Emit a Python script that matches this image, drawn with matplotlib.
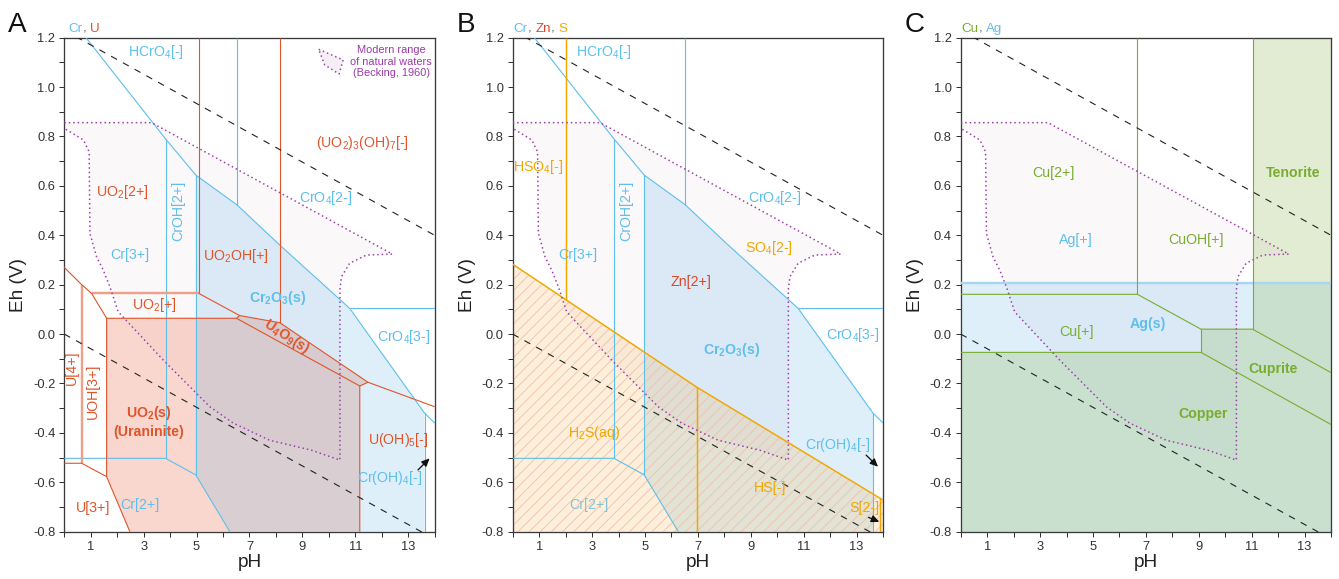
import numpy as np
import matplotlib
matplotlib.use('Agg')
import matplotlib.pyplot as plt
from matplotlib.patches import Polygon
from matplotlib.offsetbox import TextArea, HPacker, AnchoredOffsetbox
from matplotlib.ticker import MultipleLocator, FixedLocator, FuncFormatter

plt.rcParams['font.family'] = ['Liberation Sans', 'DejaVu Sans']
plt.rcParams['mathtext.fontset'] = 'custom'
plt.rcParams['mathtext.rm'] = 'Liberation Sans'
plt.rcParams['mathtext.it'] = 'Liberation Sans:italic'
plt.rcParams['mathtext.bf'] = 'Liberation Sans:bold'
plt.rcParams['hatch.linewidth'] = 0.45
plt.rcParams['axes.unicode_minus'] = False

DPI = 134

# ---- data (pH, Eh in V) ----
ph_lim = [0, 14]
eh_lim = [-0.8, 1.2]
ph_ticks = [1, 3, 5, 7, 9, 11, 13]
eh_ticks = [-0.8, -0.6, -0.4, -0.2, 0.0, 0.2, 0.4, 0.6, 0.8, 1.0, 1.2]

# water stability limits
water_up_ph = [0, 14]
water_up_eh = [1.23, 0.40]
water_lo_ph = [0, 14]
water_lo_eh = [0.0, -0.83]

# Becking (1960) range of natural waters
nat_ph = [0, 3.3, 12.4, 11.42, 10.79, 10.48, 10.42, 10.42, 9.34, 7.77, 6.38, 5.5,
          3.74, 2.04, 1.73, 1.47, 1.22, 0.97, 0.94, 0.72, 0]
nat_eh = [0.856, 0.856, 0.324, 0.32, 0.287, 0.232, 0.18, -0.51, -0.47, -0.43, -0.36, -0.294,
          -0.105, 0.09, 0.19, 0.26, 0.313, 0.408, 0.738, 0.786, 0.833]

# chromium boundaries
cr_lines = [
    ([0.82, 3.83, 4.97, 6.53, 8.15, 10.79, 13.62, 14], [1.2, 0.79, 0.644, 0.523, 0.36, 0.104, -0.32, -0.36]),
    ([3.83, 3.83], [0.79, -0.503]),
    ([4.97, 4.97], [0.644, -0.57]),
    ([6.53, 6.53], [1.2, 0.523]),
    ([10.79, 14], [0.104, 0.104]),
    ([13.62, 13.62], [-0.32, -0.8]),
    ([0, 3.83, 4.97, 6.26], [-0.503, -0.503, -0.57, -0.8]),
]
cr2o3_ph = [4.97, 6.53, 8.15, 10.79, 13.62, 13.62, 6.26, 4.97]
cr2o3_eh = [0.644, 0.523, 0.36, 0.104, -0.32, -0.8, -0.8, -0.57]

# uranium boundaries
u_lines = [
    ([5.08, 5.08], [1.2, 0.165]),
    ([8.15, 8.15], [1.2, 0.046]),
    ([0, 0.66, 1.03, 1.6, 1.6, 2.48], [0.27, 0.2, 0.165, 0.064, -0.577, -0.8]),
    ([5.08, 6.63, 8.15, 11.48, 14], [0.165, 0.075, 0.046, -0.195, -0.294]),
    ([1.6, 6.51, 11.17, 11.17], [0.064, 0.064, -0.21, -0.8]),
    ([6.51, 6.63], [0.064, 0.075]),
    ([11.17, 11.48], [-0.21, -0.195]),
    ([0, 0.66, 1.6], [-0.523, -0.523, -0.577]),
]
u_soft_lines = [
    ([0.66, 0.66], [0.2, -0.523]),
    ([1.03, 5.08], [0.165, 0.165]),
]
uo2_ph = [1.6, 6.51, 11.17, 11.17, 2.48, 1.6]
uo2_eh = [0.064, 0.064, -0.21, -0.8, -0.8, -0.577]
u4o9_ph = [6.51, 6.63, 8.15, 11.48, 11.17]
u4o9_eh = [0.064, 0.075, 0.046, -0.195, -0.21]

# sulfur boundaries
s_lines = [
    ([2.0, 2.0], [1.2, 0.14]),
    ([0, 2.0, 6.96, 14], [0.283, 0.14, -0.215, -0.672]),
    ([6.96, 6.96], [-0.215, -0.8]),
    ([13.9, 13.9], [-0.665, -0.8]),
]
s_red_ph = [0, 2.0, 6.96, 14, 14, 0]
s_red_eh = [0.283, 0.14, -0.215, -0.672, -0.8, -0.8]

# copper / silver boundaries
cu_lines = [
    ([6.68, 6.68], [1.2, 0.161]),
    ([11.03, 11.03], [1.2, 0.02]),
    ([0, 6.68, 9.08, 11.03, 14], [0.161, 0.161, 0.02, 0.02, -0.156]),
    ([9.08, 9.08], [0.02, -0.074]),
    ([0, 9.08, 14], [-0.074, -0.074, -0.366]),
]
cu_solid_ph = [0, 9.08, 9.08, 11.03, 11.03, 14, 14, 0]
cu_solid_eh = [-0.074, -0.074, 0.02, 0.02, 1.2, 1.2, -0.8, -0.8]
ag_eh = 0.206
ag_solid_ph = [0, 14, 14, 0]
ag_solid_eh = [0.206, 0.206, -0.8, -0.8]

CR = '#5dbfec'
U = '#e0552a'
U_SOFT = '#eda08a'
ZN = '#d8482a'
S = '#f0a800'
CU = '#78ad2f'
AG = '#5dbfec'
PURPLE = '#9b3aa8'
GRAY = '#555555'

labels_a = [
    ('HCrO$_4$[-]', 3.45, 1.143, CR, {}),
    ('(UO$_2$)$_3$(OH)$_7$[-]', 11.28, 0.774, U, {}),
    ('UO$_2$[2+]', 2.17, 0.576, U, {}),
    ('CrOH[2+]', 4.3, 0.50, CR, {'rotation': 90}),
    ('CrO$_4$[2-]', 9.88, 0.55, CR, {}),
    ('Cr[3+]', 2.48, 0.32, CR, {}),
    ('UO$_2$OH[+]', 6.48, 0.316, U, {}),
    ('UO$_2$[+]', 3.39, 0.118, U, {}),
    ('Cr$_\\mathbf{2}$O$_\\mathbf{3}$(s)', 8.07, 0.145, CR, {'weight': 'bold'}),
    ('U$_\\mathbf{4}$O$_\\mathbf{9}$(s)', 8.4, -0.01, U, {'weight': 'bold', 'rotation': -33}),
    ('CrO$_4$[3-]', 12.83, -0.01, CR, {}),
    ('U[4+]', 0.28, -0.138, U, {'rotation': 90}),
    ('UOH[3+]', 1.1, -0.233, U, {'rotation': 90}),
    ('UO$_\\mathbf{2}$(s)', 3.2, -0.32, U, {'weight': 'bold'}),
    ('(Uraninite)', 3.2, -0.395, U, {'weight': 'bold'}),
    ('U(OH)$_5$[-]', 12.64, -0.43, U, {}),
    ('Cr(OH)$_4$[-]', 12.3, -0.584, CR, {}),
    ('U[3+]', 1.07, -0.705, U, {}),
    ('Cr[2+]', 2.86, -0.692, CR, {}),
]
labels_b = [
    ('HCrO$_4$[-]', 3.45, 1.143, CR, {}),
    ('HSO$_4$[-]', 0.97, 0.678, S, {}),
    ('CrOH[2+]', 4.31, 0.50, CR, {'rotation': 90}),
    ('CrO$_4$[2-]', 9.89, 0.55, CR, {}),
    ('SO$_4$[2-]', 9.67, 0.347, S, {}),
    ('Cr[3+]', 2.48, 0.32, CR, {}),
    ('Zn[2+]', 6.74, 0.212, ZN, {}),
    ('Cr$_\\mathbf{2}$O$_\\mathbf{3}$(s)', 8.29, -0.064, CR, {'weight': 'bold'}),
    ('CrO$_4$[3-]', 12.86, -0.004, CR, {}),
    ('H$_2$S(aq)', 3.08, -0.40, S, {}),
    ('Cr(OH)$_4$[-]', 12.29, -0.449, CR, {}),
    ('HS[-]', 9.73, -0.624, S, {}),
    ('Cr[2+]', 2.87, -0.692, '#88c2d6', {}),
    ('S[2-]', 13.29, -0.705, S, {}),
]
labels_c = [
    ('Cu[2+]', 3.5, 0.653, CU, {}),
    ('Tenorite', 12.58, 0.653, CU, {'weight': 'bold'}),
    ('Ag[+]', 4.36, 0.381, AG, {}),
    ('CuOH[+]', 8.91, 0.381, CU, {}),
    ('Cu[+]', 4.39, 0.01, CU, {}),
    ('Ag(s)', 7.07, 0.04, AG, {'weight': 'bold'}),
    ('Cuprite', 11.82, -0.142, CU, {'weight': 'bold'}),
    ('Copper', 9.15, -0.325, CU, {'weight': 'bold'}),
]
arrows_a = [((13.37, -0.55), (13.81, -0.503))]
arrows_b = [((13.36, -0.49), (13.81, -0.537)), ((13.45, -0.742), (13.86, -0.76))]

LW = 0.6
LABEL_FS = 7.6


def base_axes(fig, rect, letter, heading):
    ax = fig.add_axes(rect)
    ax.set_xlim(ph_lim)
    ax.set_ylim(eh_lim)
    ax.xaxis.set_major_locator(FixedLocator(ph_ticks))
    ax.xaxis.set_minor_locator(MultipleLocator(1))
    ax.yaxis.set_major_locator(FixedLocator(eh_ticks))
    ax.yaxis.set_minor_locator(MultipleLocator(0.1))
    ax.yaxis.set_major_formatter(FuncFormatter(lambda v, p: '%.1f' % v))
    ax.tick_params(which='both', direction='out', length=2.8, width=0.55,
                   colors='#333333', labelsize=6.9, pad=2)
    ax.tick_params(which='both', top=False, right=False)
    for sp in ax.spines.values():
        sp.set_linewidth(0.7)
        sp.set_color('#3a3a3a')
    ax.set_xlabel('pH', fontsize=10.2, labelpad=1, color='#222222')
    ax.set_ylabel('Eh (V)', fontsize=10.2, labelpad=3, color='#222222')

    # natural waters
    ax.add_patch(Polygon(np.column_stack([nat_ph, nat_eh]), closed=True,
                         facecolor='#fbf8fa', edgecolor='none', zorder=0.5))
    ax.plot(nat_ph, nat_eh, color=PURPLE, lw=0.8, ls=(0, (1, 2)), zorder=4)
    # water stability
    ax.plot(water_up_ph, water_up_eh, color='#222222', lw=0.6, ls=(0, (6, 6)), zorder=4)
    ax.plot(water_lo_ph, water_lo_eh, color='#222222', lw=0.6, ls=(0, (6, 6)), zorder=4)

    fig.text(rect[0] - 0.042, rect[1] + rect[3] + 0.01, letter, fontsize=15, color='#111111',
             ha='left', va='baseline')
    boxes = [TextArea(t, textprops=dict(color=c, fontsize=7.2)) for t, c in heading]
    pack = HPacker(children=boxes, align='baseline', pad=0, sep=0)
    ab = AnchoredOffsetbox(loc='lower left', child=pack, pad=0, borderpad=0, frameon=False,
                           bbox_to_anchor=(heading_x[letter], 1.006), bbox_transform=ax.transAxes)
    ax.add_artist(ab)
    return ax


heading_x = {'A': 0.012, 'B': 0.003, 'C': 0.003}


def draw_lines(ax, lines, color, lw=LW, z=3):
    for xs, ys in lines:
        ax.plot(xs, ys, color=color, lw=lw, zorder=z, solid_capstyle='butt')


def draw_labels(ax, labels):
    for txt, x, y, col, kw in labels:
        ax.text(x, y, txt, color=col, fontsize=LABEL_FS, ha='center', va='center',
                rotation_mode='anchor', zorder=6, **kw)


def draw_arrows(ax, arrows):
    for start, end in arrows:
        ax.annotate('', xy=end, xytext=start,
                    arrowprops=dict(arrowstyle='-|>,head_length=0.35,head_width=0.16',
                                    color='#111111', lw=0.7, shrinkA=0, shrinkB=0), zorder=6)


fig = plt.figure(figsize=(1339 / DPI, 579 / DPI), dpi=DPI)
W, H, B = 0.2766, 0.8532, 0.0817

# ---- A: Cr, U ----
axA = base_axes(fig, [0.0480, B, W, H], 'A', [('Cr', CR), (', ', GRAY), ('U', U)])
axA.add_patch(Polygon(np.column_stack([uo2_ph, uo2_eh]), closed=True,
                      facecolor=(0.91, 0.39, 0.24, 0.25), edgecolor='none', zorder=1))
axA.add_patch(Polygon(np.column_stack([u4o9_ph, u4o9_eh]), closed=True,
                      facecolor=(0.91, 0.39, 0.24, 0.25), edgecolor='none', zorder=1))
axA.add_patch(Polygon(np.column_stack([cr2o3_ph, cr2o3_eh]), closed=True,
                      facecolor=(0.36, 0.69, 0.90, 0.2), edgecolor='none', zorder=1.5))
draw_lines(axA, cr_lines, CR)
draw_lines(axA, u_soft_lines, U_SOFT, lw=1.3)
draw_lines(axA, u_lines, U)
draw_labels(axA, labels_a)
draw_arrows(axA, arrows_a)
# legend for the natural waters field
leg = Polygon([(0.687, 0.9765), (0.753, 0.955), (0.742, 0.9265), (0.703, 0.945)], closed=True,
              transform=axA.transAxes, facecolor='#f6eef5', edgecolor=PURPLE, lw=0.8,
              ls=(0, (1, 2)), zorder=6)
axA.add_patch(leg)
axA.text(0.883, 0.951, 'Modern range\nof natural waters\n(Becking, 1960)', transform=axA.transAxes,
         fontsize=5.9, color=PURPLE, ha='center', va='center', linespacing=1.2, zorder=6)

# ---- B: Cr, Zn, S ----
axB = base_axes(fig, [0.3829, B, W, H], 'B', [('Cr', CR), (', ', GRAY), ('Zn', ZN), (', ', GRAY), ('S', S)])
axB.add_patch(Polygon(np.column_stack([cr2o3_ph, cr2o3_eh]), closed=True,
                      facecolor=(0.36, 0.69, 0.90, 0.2), edgecolor='none', zorder=1))
axB.add_patch(Polygon(np.column_stack([s_red_ph, s_red_eh]), closed=True,
                      facecolor=(0.96, 0.69, 0.27, 0.2), edgecolor='#f2c0ae', lw=0,
                      hatch='////', zorder=1.5))
draw_lines(axB, cr_lines, CR)
draw_lines(axB, s_lines, S, lw=0.8)
draw_labels(axB, labels_b)
draw_arrows(axB, arrows_b)

# ---- C: Cu, Ag ----
axC = base_axes(fig, [0.7175, B, W, H], 'C', [('Cu', CU), (', ', GRAY), ('Ag', AG)])
axC.add_patch(Polygon(np.column_stack([ag_solid_ph, ag_solid_eh]), closed=True,
                      facecolor=(0.36, 0.69, 0.90, 0.2), edgecolor='none', zorder=1))
axC.add_patch(Polygon(np.column_stack([cu_solid_ph, cu_solid_eh]), closed=True,
                      facecolor=(0.53, 0.70, 0.29, 0.24), edgecolor='none', zorder=1.5))
axC.axhline(ag_eh, color='#a6d6f0', lw=1.3, zorder=3)
draw_lines(axC, cu_lines, CU)
draw_labels(axC, labels_c)

fig.savefig('out.png', dpi=DPI)
